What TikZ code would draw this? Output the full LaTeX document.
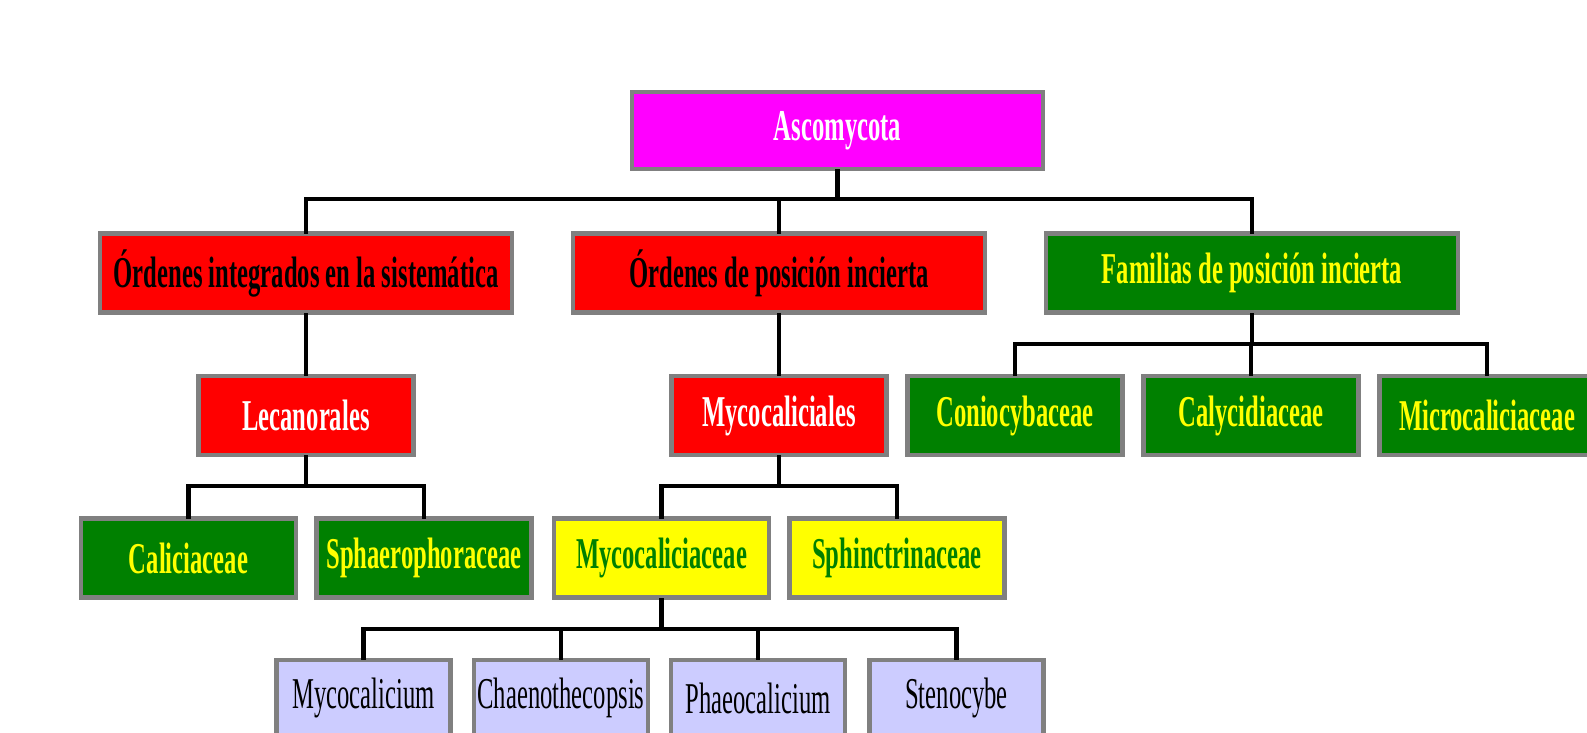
\documentclass[tikz,border=0pt]{standalone}
\usepackage{fontspec}
\newfontfamily\boxfont[FakeStretch=0.56]{Liberation Serif}
\usetikzlibrary{calc}

\definecolor{magentabox}{RGB}{255,0,255}
\definecolor{redbox}{RGB}{255,0,0}
\definecolor{greenbox}{RGB}{0,128,0}
\definecolor{yellowbox}{RGB}{255,255,0}
\definecolor{lilacbox}{RGB}{204,204,255}
\definecolor{rimgray}{RGB}{128,128,128}

\begin{document}
\begin{tikzpicture}[x=1pt,y=-1pt,
  taxon/.style={draw=rimgray,line width=4.5pt,inner sep=0pt,
    minimum width=412pt,minimum height=79pt,
    font=\boxfont\fontsize{44}{48}\selectfont},
  small/.style={taxon,minimum width=215pt},
  genus/.style={taxon,minimum width=174pt,minimum height=76pt},
  link/.style={line width=4.5pt,line cap=rect}]

  \useasboundingbox (0,0) rectangle (1587,733);
  \clip (0,0) rectangle (1587,733);

  % bar heights
  \coordinate (bar1) at (0,199);
  \coordinate (bar2) at (0,344);
  \coordinate (bar3) at (0,486);
  \coordinate (bar4) at (0,629);

  \node[taxon,fill=magentabox,text=white,minimum width=411pt,minimum height=77pt]
    (asco) at (837.5,130.5) {\bfseries Ascomycota};

  \node[taxon,fill=redbox] (integ) at (306,273) {\bfseries Órdenes integrados en la sistemática};
  \node[taxon,fill=redbox] (incert) at (779,273) {\bfseries Órdenes de posición incierta};
  \node[taxon,fill=greenbox,text=yellowbox] (famil) at (1252,273)
    {\bfseries Familias de posición incierta};

  \node[small,fill=redbox,text=white] (lecan) at (306,415.5) {\bfseries Lecanorales};
  \node[small,fill=redbox,text=white] (mycoal) at (779,415.5) {\bfseries Mycocaliciales};
  \node[small,fill=greenbox,text=yellowbox] (conio) at (1015,415.5) {\bfseries Coniocybaceae};
  \node[small,fill=greenbox,text=yellowbox] (calyc) at (1251,415.5) {\bfseries Calycidiaceae};
  \node[small,fill=greenbox,text=yellowbox] (micro) at (1487,415.5) {\bfseries Microcaliciaceae};

  \node[small,fill=greenbox,text=yellowbox] (calic) at (188.5,558) {\bfseries Caliciaceae};
  \node[small,fill=greenbox,text=yellowbox] (sphae) at (424,558) {\bfseries Sphaerophoraceae};
  \node[small,fill=yellowbox,text=greenbox] (mycoac) at (661.5,558) {\bfseries Mycocaliciaceae};
  \node[small,fill=yellowbox,text=greenbox] (sphin) at (897,558) {\bfseries Sphinctrinaceae};

  \node[genus,fill=lilacbox] (mycoum) at (363.5,698) {Mycocalicium};
  \node[genus,fill=lilacbox] (chaen) at (561,698) {Chaenothecopsis};
  \node[genus,fill=lilacbox] (phaeo) at (758,698) {Phaeocalicium};
  \node[genus,fill=lilacbox] (steno) at (956.5,698) {Stenocybe};

  \foreach \kid in {integ,incert,famil}
    \draw[link] (asco.south) |- (\kid.north |- bar1) -- (\kid.north);
  \draw[link] (integ.south) -- (lecan.north);
  \draw[link] (incert.south) -- (mycoal.north);
  \foreach \kid in {conio,calyc,micro}
    \draw[link] (famil.south) |- (\kid.north |- bar2) -- (\kid.north);
  \foreach \kid in {calic,sphae}
    \draw[link] (lecan.south) |- (\kid.north |- bar3) -- (\kid.north);
  \foreach \kid in {mycoac,sphin}
    \draw[link] (mycoal.south) |- (\kid.north |- bar3) -- (\kid.north);
  \foreach \kid in {mycoum,chaen,phaeo,steno}
    \draw[link] (mycoac.south) |- (\kid.north |- bar4) -- (\kid.north);

\end{tikzpicture}
\end{document}
